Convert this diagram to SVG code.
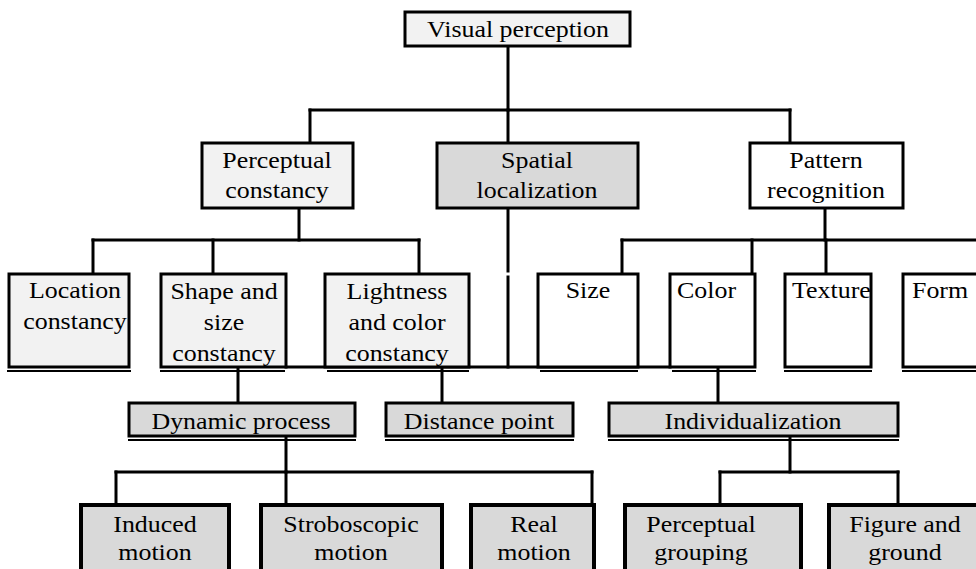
<svg xmlns="http://www.w3.org/2000/svg" width="976" height="569" viewBox="0 0 976 569">
<defs>
<style>
.box{stroke:#000;stroke-width:3}
.thick{stroke:#000;stroke-width:4}
.l1{fill:#f2f2f2}
.d1{fill:#d9d9d9}
.w{fill:#fff}
.frame{fill:none;stroke:#000;stroke-width:3}
.ul{stroke:#000;stroke-width:2;fill:none}
text{font-family:"Liberation Serif","Times New Roman",serif;font-size:24px;fill:#000}
.c{text-anchor:middle}
.conn line{stroke:#000;stroke-width:3;stroke-linecap:square}
</style>
</defs>
<rect width="976" height="569" fill="#fff"/>

<g class="conn" id="connectors">
<line x1="508" y1="46" x2="508" y2="110"/>
<line x1="310" y1="110" x2="790" y2="110"/>
<line x1="310" y1="110" x2="310" y2="143"/>
<line x1="508" y1="110" x2="508" y2="143"/>
<line x1="790" y1="110" x2="790" y2="143"/>
<line x1="299" y1="208" x2="299" y2="240"/>
<line x1="93" y1="240" x2="419" y2="240"/>
<line x1="93" y1="240" x2="93" y2="274"/>
<line x1="213" y1="240" x2="213" y2="274"/>
<line x1="419" y1="240" x2="419" y2="274"/>
<line x1="508" y1="208" x2="508" y2="271"/>
<line x1="508" y1="277" x2="508" y2="367"/>
<line x1="825" y1="208" x2="825" y2="240"/>
<line x1="622" y1="240" x2="978" y2="240"/>
<line x1="622" y1="240" x2="622" y2="274"/>
<line x1="752" y1="240" x2="752" y2="274"/>
<line x1="826" y1="240" x2="826" y2="274"/>
<line x1="286" y1="367" x2="670" y2="367"/>
<line x1="238" y1="367" x2="238" y2="403"/>
<line x1="442" y1="367" x2="442" y2="403"/>
<line x1="718" y1="367" x2="718" y2="403"/>
<line x1="286" y1="436" x2="286" y2="472"/>
<line x1="116" y1="472" x2="592" y2="472"/>
<line x1="116" y1="472" x2="116" y2="505"/>
<line x1="286" y1="472" x2="286" y2="505"/>
<line x1="592" y1="472" x2="592" y2="505"/>
<line x1="790" y1="436" x2="790" y2="472"/>
<line x1="720" y1="472" x2="898" y2="472"/>
<line x1="720" y1="472" x2="720" y2="505"/>
<line x1="898" y1="472" x2="898" y2="505"/>
</g>

<g id="visual-perception">
<rect class="box l1" x="405" y="12" width="225" height="34"/>
<text class="c" transform="translate(518,37) scale(1.08,1)">Visual perception</text>
</g>

<g id="perceptual-constancy">
<rect class="box l1" x="202" y="143" width="151" height="65"/>
<text class="c" transform="translate(277,168) scale(1.08,1)"><tspan x="0" y="0">Perceptual</tspan><tspan x="0" y="30">constancy</tspan></text>
</g>

<g id="spatial-localization">
<rect class="box d1" x="437" y="143" width="201" height="65"/>
<text class="c" transform="translate(537,168) scale(1.08,1)"><tspan x="0" y="0">Spatial</tspan><tspan x="0" y="30">localization</tspan></text>
</g>

<g id="pattern-recognition">
<rect class="box w" x="750" y="143" width="153" height="65"/>
<text class="c" transform="translate(826,168) scale(1.08,1)"><tspan x="0" y="0">Pattern</tspan><tspan x="0" y="30">recognition</tspan></text>
</g>

<g id="location-constancy">
<rect class="l1" x="9" y="274" width="120" height="93"/>
<text class="c" transform="translate(75,298) scale(1.08,1)"><tspan x="0" y="0">Location</tspan><tspan x="0" y="31">constancy</tspan></text>
<rect class="frame" x="9" y="274" width="120" height="93"/>
<line class="ul" x1="7" y1="371" x2="131" y2="371"/>
</g>

<g id="shape-size-constancy">
<rect class="box l1" x="161" y="274" width="125" height="93"/>
<text class="c" transform="translate(224,299) scale(1.08,1)"><tspan x="0" y="0">Shape and</tspan><tspan x="0" y="31">size</tspan><tspan x="0" y="62">constancy</tspan></text>
<line class="ul" x1="160" y1="371" x2="285" y2="371"/>
</g>

<g id="lightness-color-constancy">
<rect class="box l1" x="325" y="274" width="144" height="93"/>
<text class="c" transform="translate(397,299) scale(1.08,1)"><tspan x="0" y="0">Lightness</tspan><tspan x="0" y="31">and color</tspan><tspan x="0" y="62">constancy</tspan></text>
<line class="ul" x1="327" y1="371" x2="469" y2="371"/>
</g>

<g id="size">
<rect class="box w" x="538" y="274" width="100" height="93"/>
<text class="c" transform="translate(588,298) scale(1.08,1)">Size</text>
<line class="ul" x1="540" y1="371" x2="638" y2="371"/>
</g>

<g id="color">
<rect class="box w" x="670" y="274" width="85" height="93"/>
<text transform="translate(677,298) scale(1.08,1)">Color</text>
<line class="ul" x1="672" y1="371" x2="756" y2="371"/>
</g>

<g id="texture">
<rect class="w" x="785" y="274" width="86" height="93"/>
<text transform="translate(792,298) scale(1.08,1)">Texture</text>
<rect class="frame" x="785" y="274" width="86" height="93"/>
<line class="ul" x1="784" y1="371" x2="872" y2="371"/>
</g>

<g id="form">
<rect class="box w" x="903" y="274" width="90" height="93"/>
<text transform="translate(912,298) scale(1.08,1)">Form</text>
<line class="ul" x1="902" y1="371" x2="980" y2="371"/>
</g>

<g id="dynamic-process">
<rect class="box d1" x="129" y="403" width="226" height="33"/>
<text class="c" transform="translate(241,429) scale(1.08,1)">Dynamic process</text>
<line class="ul" x1="128" y1="440" x2="356" y2="440"/>
</g>

<g id="distance-point">
<rect class="box d1" x="386" y="403" width="187" height="33"/>
<text class="c" transform="translate(479,429) scale(1.08,1)">Distance point</text>
<line class="ul" x1="385" y1="440" x2="574" y2="440"/>
</g>

<g id="individualization">
<rect class="box d1" x="609" y="403" width="289" height="33"/>
<text class="c" transform="translate(753,429) scale(1.08,1)">Individualization</text>
<line class="ul" x1="608" y1="440" x2="899" y2="440"/>
</g>

<g id="induced-motion">
<rect class="thick d1" x="81" y="505" width="148" height="80"/>
<text class="c" transform="translate(155,532) scale(1.08,1)"><tspan x="0" y="0">Induced</tspan><tspan x="0" y="28">motion</tspan></text>
</g>

<g id="stroboscopic-motion">
<rect class="thick d1" x="261" y="505" width="181" height="80"/>
<text class="c" transform="translate(351,532) scale(1.08,1)"><tspan x="0" y="0">Stroboscopic</tspan><tspan x="0" y="28">motion</tspan></text>
</g>

<g id="real-motion">
<rect class="thick d1" x="471" y="505" width="123" height="80"/>
<text class="c" transform="translate(534,532) scale(1.08,1)"><tspan x="0" y="0">Real</tspan><tspan x="0" y="28">motion</tspan></text>
</g>

<g id="perceptual-grouping">
<rect class="thick d1" x="625" y="505" width="176" height="80"/>
<text class="c" transform="translate(701,532) scale(1.08,1)"><tspan x="0" y="0">Perceptual</tspan><tspan x="0" y="28">grouping</tspan></text>
</g>

<g id="figure-ground">
<rect class="thick d1" x="829" y="505" width="160" height="80"/>
<text class="c" transform="translate(905,532) scale(1.08,1)"><tspan x="0" y="0">Figure and</tspan><tspan x="0" y="28">ground</tspan></text>
</g>
</svg>
